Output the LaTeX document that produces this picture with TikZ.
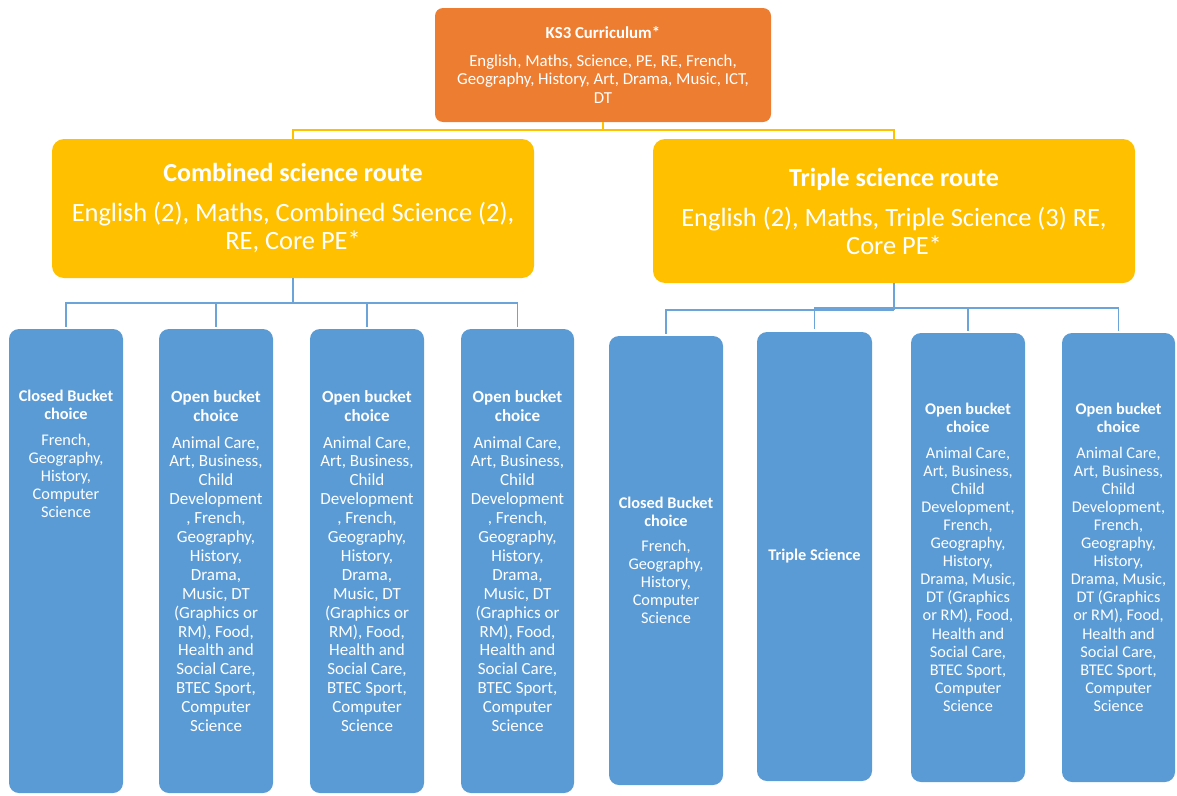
\documentclass[tikz,border=0pt]{standalone}
\usepackage{fontspec}
\setmainfont{Carlito}
\definecolor{korange}{HTML}{ED7D31}
\definecolor{kyellow}{HTML}{FFC000}
\definecolor{kblue}{HTML}{5B9BD5}
\definecolor{kline}{HTML}{6CA4D9}
\newcommand\kfTop{\fontsize{16.8}{18.5}\selectfont}
\newcommand\kfMid{\fontsize{26.4}{28}\selectfont}
\newcommand\kfMidT{\fontsize{26}{28}\selectfont}
\newcommand\kfL{\fontsize{17}{18.9}\selectfont}
\newcommand\kfR{\fontsize{16.3}{18.1}\selectfont}
\tikzset{
  shapebox/.style={inner sep=0pt, draw=none},
  orangebox/.style={shapebox, fill=korange, rounded corners=8pt},
  yellowbox/.style={shapebox, fill=kyellow, rounded corners=12pt, minimum width=482pt},
  bluebox/.style={shapebox, fill=kblue, rounded corners=10pt, minimum width=114pt},
  txt/.style={inner sep=0pt, text=white, align=center},
  yline/.style={draw=kyellow, line width=1.8pt},
  bline/.style={draw=kline, line width=1.8pt},
}
\begin{document}
\begin{tikzpicture}[x=1pt,y=-1pt]
\useasboundingbox (0,0) rectangle (1177,795);

% top box
\node[orangebox, minimum width=336pt, minimum height=114pt] (ks3) at (603,65) {};
\node[txt, font=\kfTop] (ks3t) at (ks3.center) {\textbf{KS3 Curriculum*}\\[9pt]English, Maths, Science, PE, RE, French,\\Geography, History, Art, Drama, Music, ICT,\\DT};

% route boxes
\node[yellowbox, minimum height=139pt] (comb) at (293,208.5) {};
\node[txt, font=\kfMid] (combt) at (comb.center) {{\kfMidT\textbf{Combined science route}}\\[12pt]English (2), Maths, Combined Science (2),\\RE, Core PE*};
\node[yellowbox, minimum height=144pt] (trip) at (894,211) {};
\node[txt, font=\kfMid] (tript) at (trip.center) {{\kfMidT\textbf{Triple science route}}\\[12pt]English (2), Maths, Triple Science (3) RE,\\Core PE*};

% left blue boxes
\node[bluebox, minimum height=464pt] (b1) at (66,561) {};
\node[bluebox, minimum height=464pt] (b2) at (216,561) {};
\node[bluebox, minimum height=464pt] (b3) at (367,561) {};
\node[bluebox, minimum height=464pt, minimum width=113pt] (b4) at (517.5,561) {};
% right blue boxes
\node[bluebox, minimum height=449pt] (b5) at (666,560.5) {};
\node[bluebox, minimum height=449pt, minimum width=115pt] (b6) at (814.5,556.5) {};
\node[bluebox, minimum height=449pt] (b7) at (968,557.5) {};
\node[bluebox, minimum height=449pt, minimum width=113pt] (b8) at (1118.5,557.5) {};

% texts
\node[txt, font=\kfR] (b1t) at (66,454) {\textbf{Closed Bucket}\\\textbf{choice}\\[7pt]French,\\Geography,\\History,\\Computer\\Science};
\node[txt, font=\kfL] (b2t) at (b2.center) {\textbf{Open bucket}\\\textbf{choice}\\[8pt]Animal Care,\\Art, Business,\\Child\\Development\\, French,\\Geography,\\History,\\Drama,\\Music, DT\\(Graphics or\\RM), Food,\\Health and\\Social Care,\\BTEC Sport,\\Computer\\Science};
\node[txt, font=\kfL] (b3t) at (b3.center) {\textbf{Open bucket}\\\textbf{choice}\\[8pt]Animal Care,\\Art, Business,\\Child\\Development\\, French,\\Geography,\\History,\\Drama,\\Music, DT\\(Graphics or\\RM), Food,\\Health and\\Social Care,\\BTEC Sport,\\Computer\\Science};
\node[txt, font=\kfL] (b4t) at (b4.center) {\textbf{Open bucket}\\\textbf{choice}\\[8pt]Animal Care,\\Art, Business,\\Child\\Development\\, French,\\Geography,\\History,\\Drama,\\Music, DT\\(Graphics or\\RM), Food,\\Health and\\Social Care,\\BTEC Sport,\\Computer\\Science};
\node[txt, font=\kfR] (b5t) at (b5.center) {\textbf{Closed Bucket}\\\textbf{choice}\\[7pt]French,\\Geography,\\History,\\Computer\\Science};
\node[txt, font=\kfR] (b6t) at (b6.center) {\textbf{Triple Science}};
\node[txt, font=\kfR] (b7t) at (b7.center) {\textbf{Open bucket}\\\textbf{choice}\\[7pt]Animal Care,\\Art, Business,\\Child\\Development,\\French,\\Geography,\\History,\\Drama, Music,\\DT (Graphics\\or RM), Food,\\Health and\\Social Care,\\BTEC Sport,\\Computer\\Science};
\node[txt, font=\kfR] (b8t) at (b8.center) {\textbf{Open bucket}\\\textbf{choice}\\[7pt]Animal Care,\\Art, Business,\\Child\\Development,\\French,\\Geography,\\History,\\Drama, Music,\\DT (Graphics\\or RM), Food,\\Health and\\Social Care,\\BTEC Sport,\\Computer\\Science};

% yellow connectors
\draw[yline] (ks3.south) -- ++(0,8) coordinate (yj);
\draw[yline] (yj) -| (comb.north);
\draw[yline] (yj) -| (trip.north);

% left blue connectors
\draw[bline] (comb.south) -- ++(0,25) coordinate (lj);
\foreach \b in {b1,b2,b3,b4} \draw[bline] (lj) -| ([yshift=2pt]\b.north);

% right blue connectors
\draw[bline] (trip.south) -- ++(0,26.5) coordinate (rj);
\coordinate (rj2) at ([yshift=1.5pt]rj);
\draw[bline] (rj) -| ([yshift=2pt]b5.north);
\draw[bline] (rj2) -| ([yshift=3pt]b6.north);
\draw[bline] (rj2) -| ([yshift=2pt]b7.north);
\draw[bline] (rj2) -| ([yshift=2pt]b8.north);
\end{tikzpicture}
\end{document}
